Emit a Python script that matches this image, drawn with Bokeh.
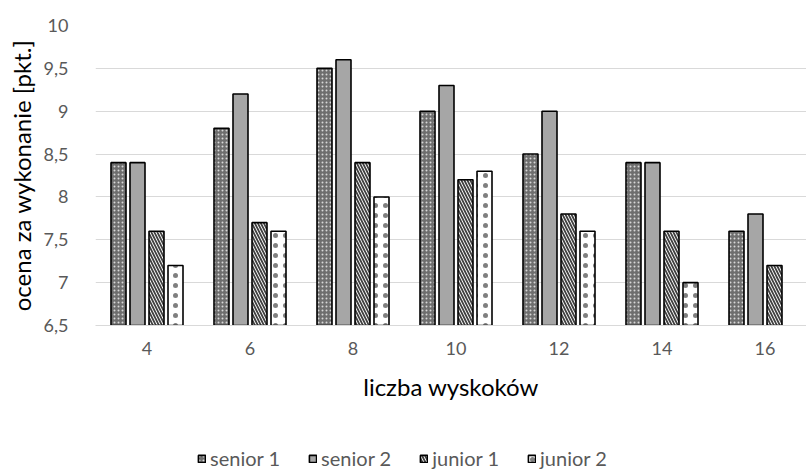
from bokeh.plotting import figure
from bokeh.layouts import column
from bokeh.models import FixedTicker, Legend, LegendItem, ColumnDataSource
from bokeh.embed import file_html
from bokeh.resources import INLINE

categories = ["4", "6", "8", "10", "12", "14", "16"]
senior_1 = [8.4, 8.8, 9.5, 9.0, 8.5, 8.4, 7.6]
senior_2 = [8.4, 9.2, 9.6, 9.3, 9.0, 8.4, 7.8]
junior_1 = [7.6, 7.7, 8.4, 8.2, 7.8, 7.6, 7.2]
junior_2 = [7.2, 7.6, 8.0, 8.3, 7.6, 7.0, None]
series_names = ["senior 1", "senior 2", "junior 1", "junior 2"]
y_ticks = [6.5, 7, 7.5, 8, 8.5, 9, 9.5, 10]
y_tick_labels = ["6,5", "7", "7,5", "8", "8,5", "9", "9,5", "10"]

FONT = "Lato"
step_px = 103.0
left_px = 95
W = 806
MAIN_H = 440
LEG_H = 30
frame_w = W - left_px
x_end = -0.5 + frame_w / step_px

p = figure(width=W, height=MAIN_H, output_backend="svg", toolbar_location=None,
           x_range=(-0.5, x_end), y_range=(6.5, 10),
           min_border_left=left_px, min_border_right=0,
           min_border_top=25, min_border_bottom=MAIN_H - 325)
p.outline_line_color = None
p.background_fill_color = "white"
p.border_fill_color = "white"

styles = [
    dict(fill_color="#6e6e6e", hatch_pattern="dot", hatch_color="#d8d8d8", hatch_scale=4, hatch_weight=1.2),
    dict(fill_color="#a6a6a6"),
    dict(fill_color="white", hatch_pattern="left_diagonal_line", hatch_color="#404040", hatch_scale=6, hatch_weight=1.8),
    dict(fill_color="white", hatch_pattern="dot", hatch_color="#7f7f7f", hatch_scale=10, hatch_weight=1.3),
]
all_series = [senior_1, senior_2, junior_1, junior_2]
bar_w = 15.0 / step_px
gap = 19.0 / step_px
offsets = [-1.5 * gap, -0.5 * gap, 0.5 * gap, 1.5 * gap]

for name, vals, st, off in zip(series_names, all_series, styles, offsets):
    xs = [i + off for i, v in enumerate(vals) if v is not None]
    ys = [v for v in vals if v is not None]
    src = ColumnDataSource(dict(x=xs, top=ys))
    p.vbar(x="x", top="top", bottom=6.5, width=bar_w, source=src,
           line_color="black", line_width=1.6, **st)

p.xgrid.grid_line_color = None
p.ygrid.grid_line_color = "#d9d9d9"
p.ygrid.grid_line_width = 1
p.ygrid.ticker = FixedTicker(ticks=y_ticks)

p.xaxis.ticker = FixedTicker(ticks=list(range(len(categories))))
p.xaxis.major_label_overrides = {i: c for i, c in enumerate(categories)}
p.yaxis.ticker = FixedTicker(ticks=y_ticks)
p.yaxis.major_label_overrides = {t: l for t, l in zip(y_ticks, y_tick_labels)}

for ax in (p.xaxis[0], p.yaxis[0]):
    ax.major_tick_line_color = None
    ax.minor_tick_line_color = None
    ax.major_tick_out = 0
    ax.major_label_text_font = FONT
    ax.major_label_text_font_size = "18px"
    ax.major_label_text_color = "#595959"
    ax.axis_label_text_font = FONT
    ax.axis_label_text_font_size = "24px"
    ax.axis_label_text_font_style = "normal"
    ax.axis_label_text_color = "black"

p.xaxis.axis_line_color = "#d9d9d9"
p.yaxis.axis_line_color = None
p.xaxis.axis_label = "liczba wyskoków"
p.yaxis.axis_label = "ocena za wykonanie [pkt.]"
p.xaxis.major_label_standoff = 16
p.xaxis.axis_label_standoff = 14
p.yaxis.major_label_standoff = 27
p.yaxis.axis_label_standoff = 5

# legend strip
lg = figure(width=W, height=LEG_H, output_backend="svg", toolbar_location=None,
            x_range=(0, 1), y_range=(0, 1), min_border=0,
            min_border_left=0, min_border_right=0, min_border_top=0, min_border_bottom=0)
lg.axis.visible = False
lg.grid.grid_line_color = None
lg.outline_line_color = None
items = []
for name, st in zip(series_names, styles):
    r = lg.vbar(x="x", top="top", bottom=-5, width=0.1,
                source=ColumnDataSource(dict(x=[5.0], top=[-4.0])),
                line_color="black", line_width=1.6, **st)
    items.append(LegendItem(label=name, renderers=[r]))

legend = Legend(items=items, orientation="horizontal", location=(102, 0),
                label_text_font=FONT, label_text_font_size="20px",
                label_text_color="#595959", glyph_width=9, glyph_height=9,
                label_height=16, label_standoff=4, spacing=28, padding=0, margin=0,
                border_line_color=None, background_fill_alpha=0)
lg.add_layout(legend)

layout = column(p, lg, spacing=0)
open("out.html", "w").write(file_html(layout, INLINE))
